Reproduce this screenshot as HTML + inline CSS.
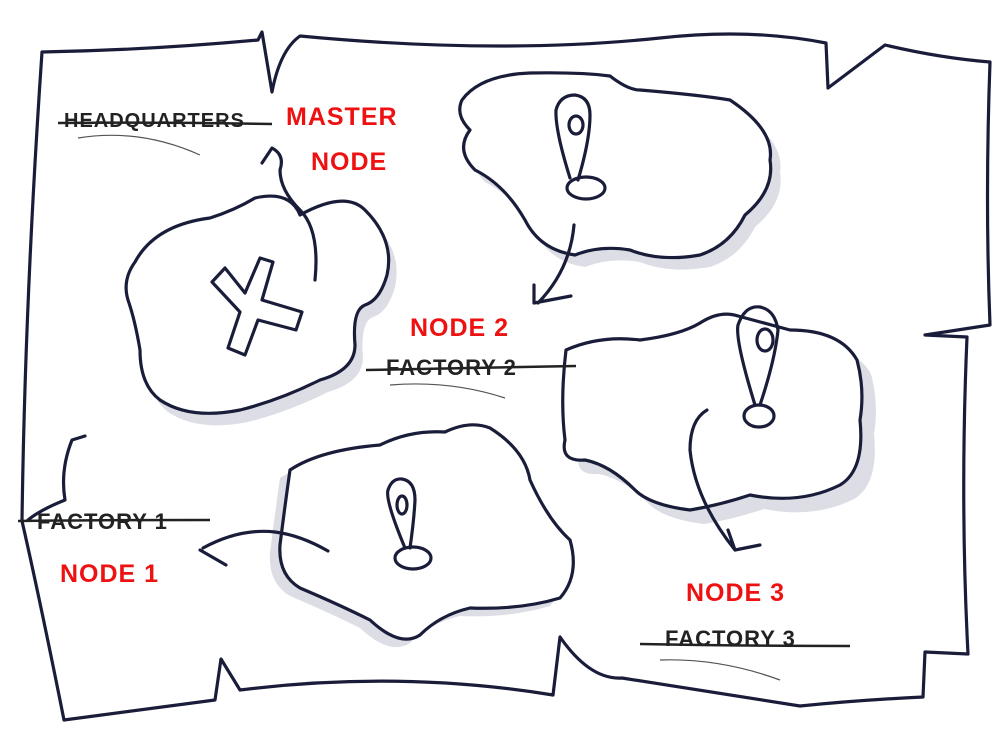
<!DOCTYPE html>
<html><head><meta charset="utf-8"><style>
html,body{margin:0;padding:0;background:#fff;}
svg{display:block;}
.l{fill:none;stroke:#1a1d3a;stroke-width:3.2;stroke-linecap:round;stroke-linejoin:round;}
.f{fill:#fff;stroke:#1a1d3a;stroke-width:3.2;stroke-linecap:round;stroke-linejoin:round;}
.sh{fill:#dcdde5;stroke:none;}
.r{font-family:"Liberation Sans",sans-serif;font-size:25px;fill:#ee1111;font-weight:bold;letter-spacing:1px;}
.k{font-family:"Liberation Sans",sans-serif;font-size:22px;fill:#222;font-weight:bold;letter-spacing:1px;}
.s{stroke:#222;stroke-width:2.5;fill:none;}
.t{stroke:#555;stroke-width:1.2;fill:none;}
</style></head><body>
<svg width="1000" height="738" viewBox="0 0 1000 738" xmlns="http://www.w3.org/2000/svg">
<defs>
<path id="i1" d="M135,262 Q155,225 210,218 Q235,210 255,198 Q290,190 300,215 Q345,190 365,210 Q395,240 387,275 Q380,300 365,305 Q352,310 355,345 Q355,370 320,380 Q280,400 240,410 Q190,420 160,400 Q140,385 140,350 Q135,320 128,300 Q122,280 135,262 Z"/>
<path id="i2" d="M462,100 Q480,75 530,73 Q580,72 610,76 Q628,90 640,90 Q700,95 730,100 Q775,130 770,160 Q775,190 745,215 Q730,245 700,255 Q660,262 630,250 Q600,245 575,255 Q540,250 525,220 Q505,185 475,170 Q455,150 470,130 Q455,115 462,100 Z"/>
<path id="i3" d="M566,350 Q600,335 640,340 Q680,335 700,323 Q720,310 738,316 L790,330 Q840,330 857,360 Q865,390 860,420 Q865,470 840,485 Q800,505 750,495 Q720,505 690,510 Q650,505 635,490 Q610,465 585,460 Q560,462 565,440 Q560,400 566,350 Z"/>
<path id="i4" d="M290,470 Q320,450 380,445 Q410,430 445,432 Q470,420 490,428 Q525,450 530,480 Q548,520 570,540 Q580,575 560,598 Q520,610 470,608 Q440,615 420,635 Q400,648 370,620 Q340,605 300,588 Q278,575 280,545 Q285,505 290,470 Z"/>
</defs>
<!-- map outline -->
<path class="l" d="M42,52 Q150,50 258,40 L262,32 L272,92 Q280,50 300,36 Q500,55 660,38 Q750,28 826,43 L828,88 L885,45 Q940,58 990,62 Q985,200 990,325 L925,335 L967,337 Q960,500 968,654 L925,652 L923,697 Q860,700 800,706 Q700,690 622,678 Q590,680 560,637 L553,695 Q400,670 240,690 L221,659 L215,700 Q140,710 64,720 Q40,600 22,521 Q25,300 42,52"/>
<path class="l" d="M85,436 L72,440 Q60,470 65,500 Q40,510 28,520"/>
<!-- shadows -->
<use href="#i1" class="sh" transform="translate(8,12)"/>
<use href="#i2" class="sh" transform="translate(10,12)"/>
<use href="#i3" class="sh" transform="translate(14,14)"/>
<use href="#i4" class="sh" transform="translate(-10,8)"/>
<use href="#i1" class="f"/>
<use href="#i2" class="f"/>
<use href="#i3" class="f"/>
<use href="#i4" class="f"/>
<!-- X -->
<path class="l" d="M212,282 L225,268 L245,293 L260,258 L273,262 L262,300 L302,312 L296,330 L258,320 L245,355 L228,348 L240,312 Z"/>
<path class="l" d="M315,280 Q320,230 300,210 Q280,190 280,170 Q285,155 272,148 L262,163"/>
<!-- top pin -->
<path class="l" d="M570,178 Q555,130 556,110 Q560,95 575,95 Q590,97 590,115 Q590,140 578,180"/>
<ellipse class="l" cx="586" cy="188" rx="19" ry="11"/>
<ellipse class="l" cx="576" cy="125" rx="7" ry="9"/>
<path class="l" d="M574,225 Q570,270 538,303 M534,285 L534,303 L571,296"/>
<!-- right pin -->
<path class="l" d="M755,405 Q735,340 738,325 Q745,305 760,307 Q775,310 778,330 Q775,360 760,405"/>
<ellipse class="l" cx="759" cy="416" rx="15" ry="11"/>
<ellipse class="l" cx="765" cy="340" rx="8" ry="11"/>
<path class="l" d="M707,410 Q690,420 690,450 Q695,500 735,550 M728,530 L735,550 L760,545"/>
<!-- bottom pin -->
<path class="l" d="M405,548 Q385,500 388,490 Q392,478 402,479 Q415,481 415,500 Q414,520 410,548"/>
<ellipse class="l" cx="413" cy="558" rx="18" ry="11"/>
<ellipse class="l" cx="402" cy="505" rx="5" ry="9"/>
<path class="l" d="M328,551 Q300,535 275,532 Q240,528 203,548 M200,550 L226,565"/>
<!-- labels -->
<text class="r" x="286" y="125">MASTER</text>
<text class="r" x="311" y="170">NODE</text>
<text class="k" x="64" y="127" style="font-size:20px">HEADQUARTERS</text>
<path class="s" d="M58,123 Q160,122 272,124"/><path class="t" d="M78,138 Q140,128 200,155"/>
<text class="r" x="410" y="336">NODE 2</text>
<text class="k" x="386" y="375">FACTORY 2</text>
<path class="s" d="M366,370 Q470,368 576,366"/><path class="t" d="M390,385 Q450,380 505,398"/>
<text class="k" x="37" y="529">FACTORY 1</text>
<path class="s" d="M18,521 Q110,520 210,520"/>
<text class="r" x="60" y="582">NODE 1</text>
<text class="r" x="686" y="601">NODE 3</text>
<text class="k" x="665" y="646">FACTORY 3</text>
<path class="s" d="M640,644 Q740,646 850,646"/><path class="t" d="M660,660 Q720,658 780,680"/>
</svg>
</body></html>
